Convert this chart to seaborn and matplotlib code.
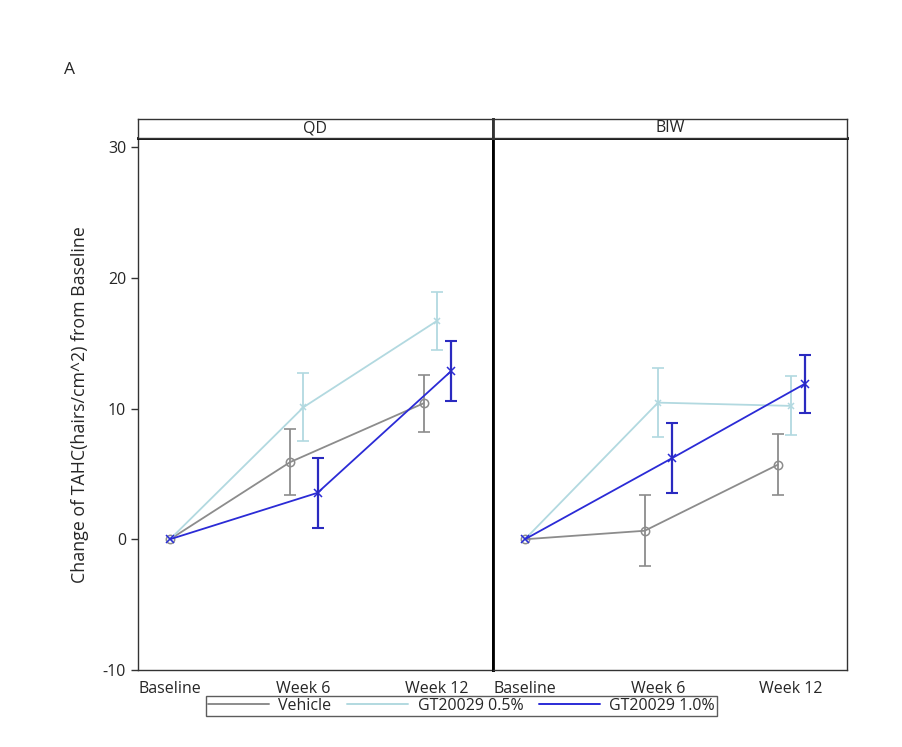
import numpy as np
import pandas as pd
import matplotlib
matplotlib.use("Agg")
import matplotlib.pyplot as plt
import seaborn as sns
from matplotlib.lines import Line2D

sns.set_style("white")
plt.rcParams['font.family'] = ['Open Sans', 'DejaVu Sans']
plt.rcParams['axes.unicode_minus'] = False

# ---- data ----
timepoints = ["Baseline", "Week 6", "Week 12"]
panels = ["QD", "BIW"]
groups = ["Vehicle", "GT20029 0.5%", "GT20029 1.0%"]

qd_vehicle = [0.0, 5.9, 10.4]
qd_vehicle_err = [0.0, 2.55, 2.2]
qd_low = [0.0, 10.1, 16.7]
qd_low_err = [0.0, 2.6, 2.2]
qd_high = [0.0, 3.55, 12.85]
qd_high_err = [0.0, 2.67, 2.3]

biw_vehicle = [0.0, 0.65, 5.7]
biw_vehicle_err = [0.0, 2.7, 2.35]
biw_low = [0.0, 10.45, 10.2]
biw_low_err = [0.0, 2.65, 2.25]
biw_high = [0.0, 6.2, 11.9]
biw_high_err = [0.0, 2.66, 2.22]

values = {
    ("QD", "Vehicle"): (qd_vehicle, qd_vehicle_err),
    ("QD", "GT20029 0.5%"): (qd_low, qd_low_err),
    ("QD", "GT20029 1.0%"): (qd_high, qd_high_err),
    ("BIW", "Vehicle"): (biw_vehicle, biw_vehicle_err),
    ("BIW", "GT20029 0.5%"): (biw_low, biw_low_err),
    ("BIW", "GT20029 1.0%"): (biw_high, biw_high_err),
}

colors = {"Vehicle": "#8c8c8c", "GT20029 0.5%": "#b2d9e0", "GT20029 1.0%": "#2b2bd6"}
err_colors = {"Vehicle": "#8c8c8c", "GT20029 0.5%": "#b2d9e0", "GT20029 1.0%": "#2a2ac0"}
markers = {"Vehicle": "o", "GT20029 0.5%": "x", "GT20029 1.0%": "x"}
offsets = {"Vehicle": -0.1, "GT20029 0.5%": 0.0, "GT20029 1.0%": 0.105}

rows = []
for (panel, grp), (vals, errs) in values.items():
    for i, (tp, v, e) in enumerate(zip(timepoints, vals, errs)):
        xpos = i + (offsets[grp] if i > 0 else 0.0)
        rows.append(dict(panel=panel, group=grp, time=tp, x=xpos, y=v, err=e))
df = pd.DataFrame(rows)

W, H = 902, 747
fig = plt.figure(figsize=(W / 100, H / 100), dpi=100)

def fx(px):
    return px / W

def fy(py):
    return 1 - py / H

TICK_FS = 11.5

top_px, bot_px = 138, 670
axL = fig.add_axes([fx(138), fy(bot_px), fx(493 - 138), (bot_px - top_px) / H])
axR = fig.add_axes([fx(493), fy(bot_px), fx(847 - 493), (bot_px - top_px) / H], sharey=axL)

for ax, panel in zip([axL, axR], panels):
    sub = df[df.panel == panel]
    for grp in groups:
        g = sub[sub.group == grp]
        sns.lineplot(data=g, x="x", y="y", ax=ax, color=colors[grp], lw=1.3,
                     marker=markers[grp], markersize=6 if grp != "GT20029 0.5%" else 5,
                     markerfacecolor="none" if grp == "Vehicle" else colors[grp],
                     markeredgecolor=colors[grp], markeredgewidth=1.1,
                     sort=False, legend=False, errorbar=None)
        ge = g[g.err > 0]
        ax.errorbar(ge.x, ge.y, yerr=ge.err, fmt="none", ecolor=err_colors[grp],
                    elinewidth=1.6 if grp == "GT20029 1.0%" else 1.3,
                    capsize=4.5, capthick=1.5 if grp == "GT20029 1.0%" else 1.2)
    ax.set_xlim(-0.24, 2.42)
    ax.set_ylim(-10, 30.69)
    ax.set_xticks(range(len(timepoints)))
    ax.set_xticklabels(timepoints, fontsize=TICK_FS)
    ax.set_xlabel("")
    ax.set_ylabel("")
    ax.tick_params(axis="x", length=0, pad=8)
    for s in ax.spines.values():
        s.set_color("#333333")
        s.set_linewidth(1.0)
    ax.spines["top"].set_color("black")
    ax.spines["top"].set_linewidth(2.0)

axL.spines["right"].set_color("black")
axL.spines["right"].set_linewidth(2.0)
axR.spines["left"].set_color("black")
axR.spines["left"].set_linewidth(2.0)
axL.set_yticks([-10, 0, 10, 20, 30])
axL.tick_params(axis="y", length=5, width=1, labelsize=TICK_FS, left=True, color="#333333")
axR.tick_params(axis="y", left=False, labelleft=False)

# facet headers
for x0, x1, panel, lw_left, lw_right in [(138, 493, "QD", 1.0, 2.0), (493, 847, "BIW", 2.0, 1.0)]:
    hax = fig.add_axes([fx(x0), fy(138), fx(x1 - x0), 19 / H])
    hax.set_xticks([])
    hax.set_yticks([])
    for s in hax.spines.values():
        s.set_color("#333333")
        s.set_linewidth(1.0)
    hax.spines["left"].set_linewidth(lw_left)
    hax.spines["right"].set_linewidth(lw_right)
    hax.text(0.5, 0.5, panel, ha="center", va="center", fontsize=TICK_FS, transform=hax.transAxes)

fig.text(fx(70), fy(70), "A", fontsize=12.5, ha="center", va="center")
fig.text(fx(80), fy(405), "Change of TAHC(hairs/cm^2) from Baseline", rotation=90,
         ha="center", va="center", fontsize=12.8)

handles = [Line2D([0], [0], color=colors[g], lw=1.4) for g in groups]
leg = fig.legend(handles, groups, loc="center", bbox_to_anchor=(fx(461.5), fy(706)),
                 ncol=3, fontsize=TICK_FS, handlelength=3.8, handletextpad=0.6,
                 columnspacing=1.0, frameon=True, fancybox=False, borderpad=0.1,
                 borderaxespad=0)
leg.get_frame().set_edgecolor("#333333")
leg.get_frame().set_linewidth(1.0)

fig.savefig("out.png", dpi=100)
